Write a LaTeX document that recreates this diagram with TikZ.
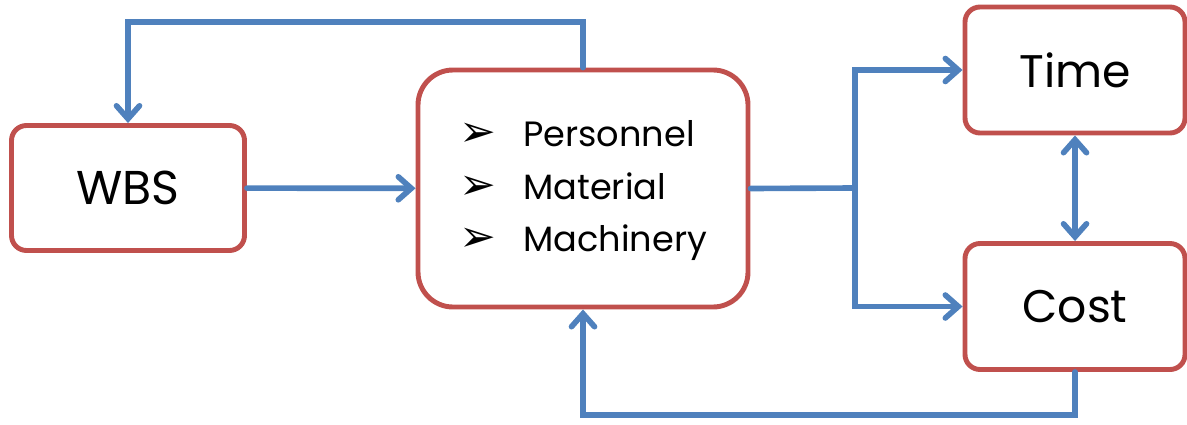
\documentclass[tikz,border=0pt]{standalone}
\usepackage{fontspec}
\setmainfont{Poppins}
\newfontfamily\symfont{DejaVu Sans}
\usetikzlibrary{arrows.meta}
\definecolor{boxred}{HTML}{C0504D}
\definecolor{flowblue}{HTML}{4F81BD}
\newcommand{\pointer}{{\symfont\fontsize{25}{30}\selectfont\char"27A2}}
\begin{document}
\begin{tikzpicture}[>={Straight Barb[length=2.6mm,width=4.6mm,line cap=round]},
  box/.style={draw=boxred, line width=2.8pt, rounded corners=3mm, align=center,
    inner sep=0pt, font=\fontsize{26}{32}\selectfont},
  flow/.style={draw=flowblue, line width=3.2pt, line cap=round}]
  \useasboundingbox (0,0) rectangle (23.74,8.48);
  \node[box, minimum width=4.66cm, minimum height=2.5cm, font=\fontsize{27}{32}\selectfont]
    (wbs) at (2.56,4.72) {WBS};
  \node[box, minimum width=6.6cm, minimum height=4.74cm, rounded corners=7mm,
    font=\fontsize{20}{30}\selectfont] (res) at (11.66,4.71)
    {\begin{tabular}{@{}l@{\hspace{5.5mm}}l@{}}
      \pointer & Personnel\\
      \pointer & Material\\
      \pointer & Machinery
    \end{tabular}};
  \node[box, minimum width=4.4cm, minimum height=2.52cm] (time) at (21.5,7.08) {Time};
  \node[box, minimum width=4.4cm, minimum height=2.52cm] (cost) at (21.5,2.35) {Cost};
  \coordinate (top) at (0,8.04);
  \coordinate (bottom) at (0,0.18);
  \coordinate (split) at (17.1,4.72);
  \draw[flow,->] (wbs) -- (res);
  \draw[flow,->] (res.north) -- (res.north |- top) -| (wbs.north);
  \draw[flow] (res.east) -- (split);
  \draw[flow,->] (split) |- (time.west);
  \draw[flow,->] (split) |- (cost.west);
  \draw[flow,<->] (time.south) -- (cost.north);
  \draw[flow,->] (cost.south) -- (cost.south |- bottom) -| (res.south);
\end{tikzpicture}
\end{document}
